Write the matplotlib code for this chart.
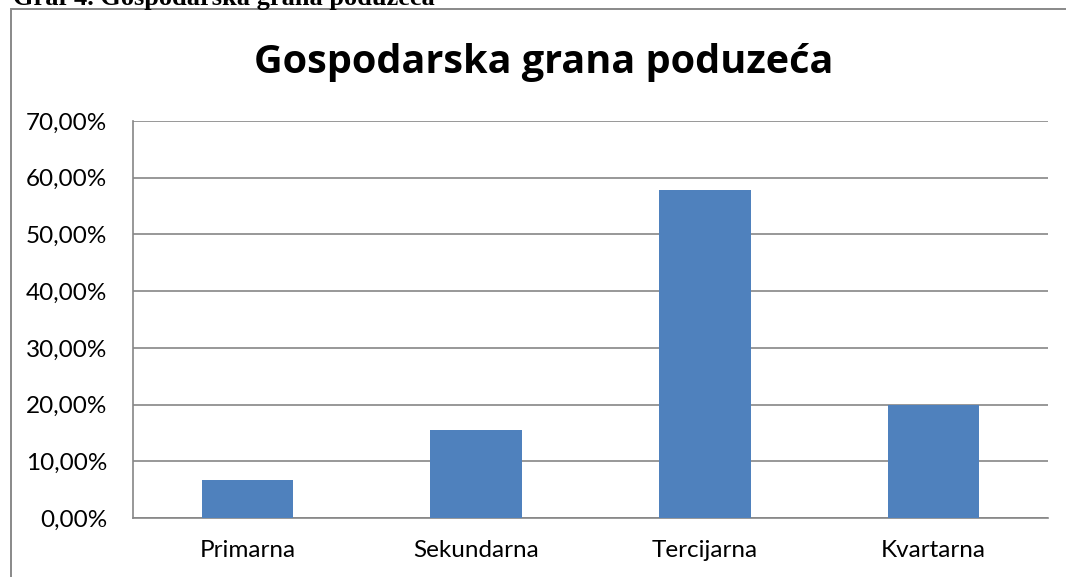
import matplotlib
matplotlib.use("Agg")
import matplotlib.pyplot as plt
from matplotlib.patches import Rectangle
from matplotlib.ticker import FuncFormatter, MultipleLocator

categories = ["Primarna", "Sekundarna", "Tercijarna", "Kvartarna"]
values = [0.0667, 0.1556, 0.5778, 0.2000]
chart_title = "Gospodarska grana poduzeća"
caption = "Graf 4. Gospodarska grana poduzeća"

W, H = 1066, 577
fig = plt.figure(figsize=(W / 100, H / 100), dpi=100)
fig.patch.set_facecolor("white")

# outer chart frame
fig.patches.append(Rectangle((11 / W, -0.05), 1.2, 1 - 9 / H + 0.05, transform=fig.transFigure,
                             fill=False, edgecolor="#898989", linewidth=1.4))

# caption (clipped at top, as in the reference)
fig.text(13 / W, 1 - 5.5 / H, caption, family="Liberation Serif", weight="bold",
         fontsize=19, ha="left", va="baseline", color="black")

ax = fig.add_axes([133 / W, (H - 518) / H, (1048 - 133) / W, (518 - 121) / H])
x = list(range(len(categories)))
ax.bar(x, values, width=0.4, color="#4F81BD", zorder=3)
ax.set_xlim(-0.5, len(categories) - 0.5)
ax.set_ylim(0, 0.7)
ax.yaxis.set_major_locator(MultipleLocator(0.1))
ax.yaxis.set_major_formatter(FuncFormatter(lambda v, p: f"{v*100:.2f}%".replace(".", ",")))
ax.set_xticks(x)
ax.set_xticklabels(categories)
ax.grid(axis="y", color="#868686", linewidth=1.2, zorder=0)
ax.set_axisbelow(True)
for s in ["top", "right"]:
    ax.spines[s].set_visible(False)
for s in ["left", "bottom"]:
    ax.spines[s].set_color("#868686")
    ax.spines[s].set_linewidth(1.2)
ax.tick_params(length=0)
ax.tick_params(axis="y", pad=18.5)
ax.tick_params(axis="x", pad=16)
for lab in ax.get_yticklabels() + ax.get_xticklabels():
    lab.set_family("Lato")
    lab.set_fontsize(17.5)

fig.text(543.5 / W, 1 - 62 / H, chart_title, family="Open Sans", weight="bold",
         fontsize=28.5, ha="center", va="center", color="black")

fig.savefig("out.png", dpi=100)
